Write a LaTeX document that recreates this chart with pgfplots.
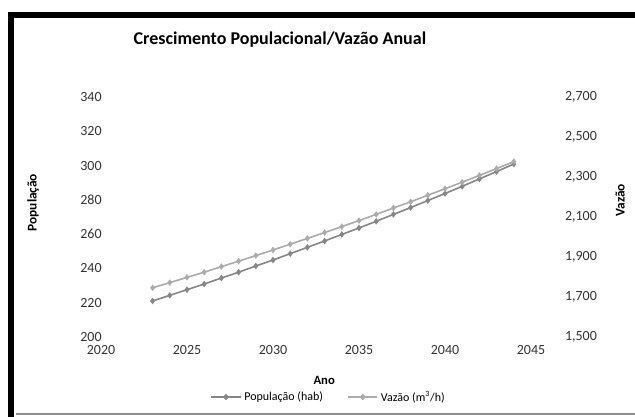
\documentclass[border=0pt]{standalone}
\usepackage{fontspec}
\setmainfont{Carlito}
\usepackage{pgfplots}
\pgfplotsset{compat=1.18}
\definecolor{popgray}{HTML}{868686}
\definecolor{vazgray}{HTML}{ABABAB}

\begin{document}
\begin{tikzpicture}
  \useasboundingbox (0,0) rectangle (476.25pt,312.75pt);
  \fill[white] (0,0) rectangle (476.25pt,312.75pt);

  \begin{axis}[
    at={(75.75pt,60pt)}, anchor=south west,
    scale only axis, width=322.5pt, height=180pt,
    xmin=2020, xmax=2045, ymin=200, ymax=340,
    xtick={2020,2025,...,2045}, ytick={200,220,...,340},
    axis x line*=bottom, axis y line*=left,
    axis line style={draw=none}, tick style={draw=none},
    ticklabel style={font=\fontsize{10.5}{12}\selectfont, text=black!80},
    /pgf/number format/assume math mode=true,
    x tick label style={/pgf/number format/1000 sep={}, yshift=-3pt},
    y tick label style={xshift=4pt},
    title={Crescimento Populacional/Vazão Anual},
    title style={at={(axis description cs:0.416,1.205)}, anchor=center,
      font=\bfseries\fontsize{13.5}{15}\selectfont},
    xlabel={Ano},
    xlabel style={at={(axis description cs:0.519,-0.183)}, anchor=center,
      font=\bfseries\fontsize{9.5}{11}\selectfont},
    ylabel={População},
    ylabel style={at={(axis description cs:-0.158,0.56)}, anchor=center,
      font=\bfseries\fontsize{10}{12}\selectfont},
  ]
    \addplot[popgray, line width=1.2pt, mark=diamond*, mark size=1.5pt] coordinates {
      (2023,221.0) (2024,224.3) (2025,227.6) (2026,230.9) (2027,234.4)
      (2028,237.8) (2029,241.4) (2030,244.9) (2031,248.6) (2032,252.3)
      (2033,256.0) (2034,259.8) (2035,263.6) (2036,267.5) (2037,271.5)
      (2038,275.5) (2039,279.6) (2040,283.7) (2041,287.9) (2042,292.2)
      (2043,296.5) (2044,300.9)
    };
  \end{axis}

  \begin{axis}[
    at={(75.75pt,60pt)}, anchor=south west,
    scale only axis, width=322.5pt, height=180pt,
    xmin=2020, xmax=2045, ymin=1500, ymax=2700,
    ytick={1500,1700,...,2700},
    axis x line=none, axis y line*=right,
    axis line style={draw=none}, tick style={draw=none},
    ticklabel style={font=\fontsize{10.5}{12}\selectfont, text=black!80},
    /pgf/number format/assume math mode=true,
    y tick label style={anchor=west, xshift=22pt},
    ylabel={Vazão},
    ylabel style={at={(axis description cs:1.207,0.57)}, anchor=center,
      font=\bfseries\fontsize{10}{12}\selectfont},
    legend style={at={(axis description cs:0.53,-0.25)}, anchor=center,
      draw=none, fill=none, legend columns=2,
      font=\fontsize{9}{11}\selectfont,
      /tikz/every even column/.append style={column sep=16pt}},
    legend image post style={xscale=1.3},
  ]
    \addlegendimage{popgray, line width=1.2pt, mark=diamond*, mark size=1.5pt}
    \addlegendentry{População (hab)}
    \addplot[vazgray, line width=1.2pt, mark=diamond*, mark size=1.5pt] coordinates {
      (2023,1746) (2024,1772) (2025,1798) (2026,1824) (2027,1852)
      (2028,1879) (2029,1907) (2030,1935) (2031,1964) (2032,1993)
      (2033,2022) (2034,2052) (2035,2082) (2036,2113) (2037,2145)
      (2038,2176) (2039,2209) (2040,2241) (2041,2274) (2042,2308)
      (2043,2342) (2044,2377)
    };
    \addlegendentry{Vazão (m\textsuperscript{3}/h)}
  \end{axis}

  % moldura
  \draw[black, line width=4.5pt, line join=miter]
    (8.25pt,0) -- (8.25pt,301.5pt) -- (476.25pt,301.5pt);
  \draw[black!45, line width=1.5pt] (12pt,2.25pt) -- (476.25pt,2.25pt);
\end{tikzpicture}
\end{document}
